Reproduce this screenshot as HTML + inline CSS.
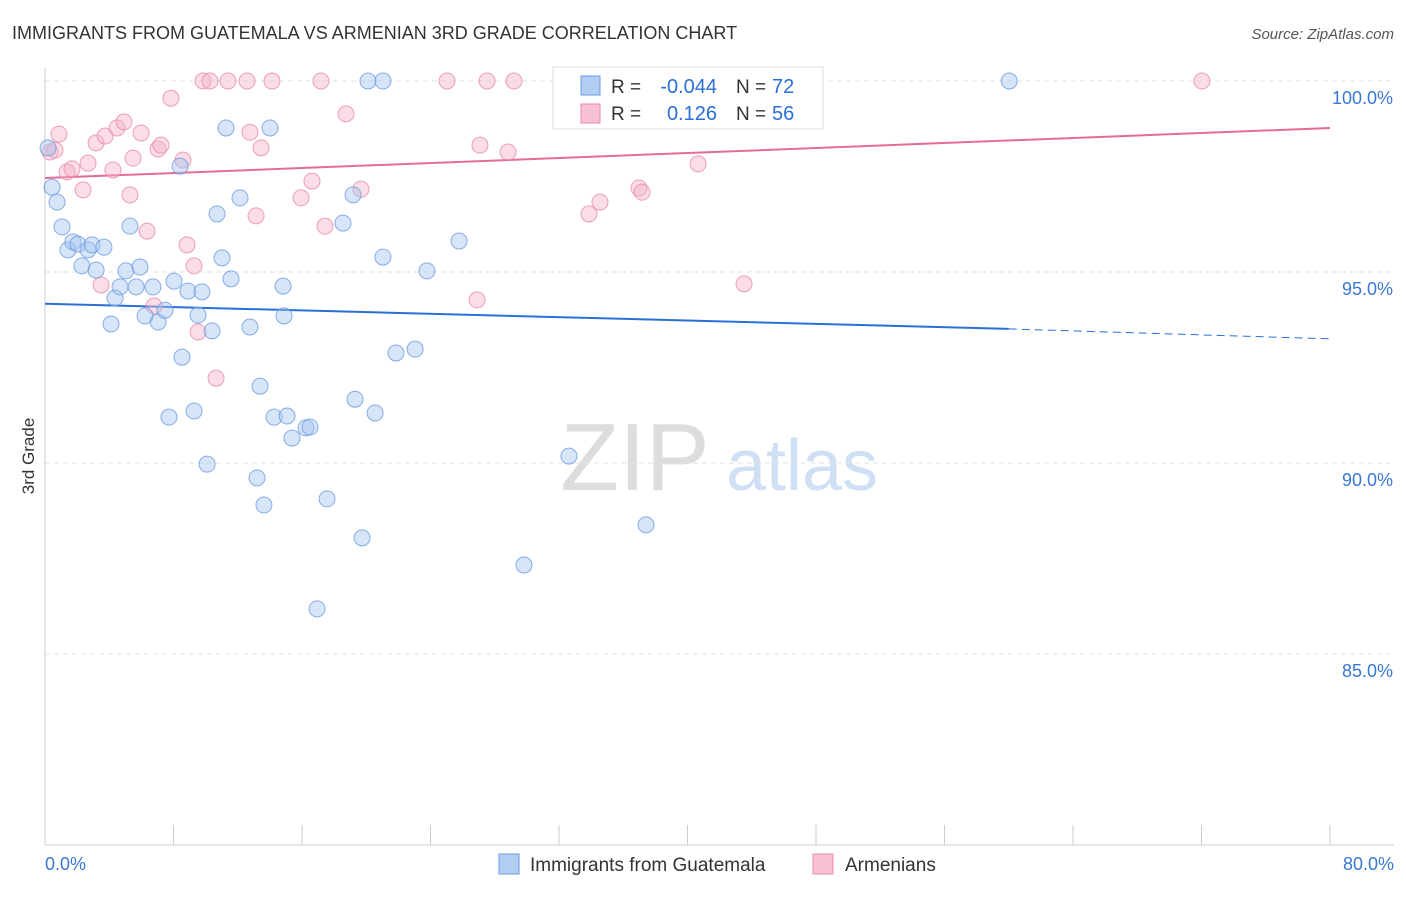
<!DOCTYPE html>
<html><head><meta charset="utf-8"><style>
body{margin:0;background:#fff;font-family:"Liberation Sans",sans-serif;}
svg text{font-family:"Liberation Sans",sans-serif;}
</style></head><body>
<svg id="c" width="1406" height="892" viewBox="0 0 1406 892" xmlns="http://www.w3.org/2000/svg">
<text x="12" y="39" font-size="18" fill="#333">IMMIGRANTS FROM GUATEMALA VS ARMENIAN 3RD GRADE CORRELATION CHART</text>
<text x="1394" y="39" font-size="15" fill="#555" text-anchor="end" font-style="italic">Source: ZipAtlas.com</text>
<text transform="translate(34,456) rotate(-90)" font-size="17" fill="#333" text-anchor="middle">3rd Grade</text>
<g>
<text x="635" y="490" font-size="96" fill="#ddd" text-anchor="middle" font-family="Liberation Serif,serif">ZIP</text>
<text x="802" y="490" font-size="72" fill="#cfe0f5" text-anchor="middle">atlas</text>
</g>
<g id="grid"></g><g id="axes"></g><g id="lines"></g><g id="pts"></g>
<g>
<rect x="553" y="67" width="270" height="62" fill="#fff" stroke="#ddd"/>
<rect x="581" y="76" width="19" height="19" fill="#b3cef3" stroke="#6a9be0"/>
<text x="611" y="93" font-size="19" fill="#333">R =</text>
<text x="717" y="93" font-size="20" fill="#2a6fd6" text-anchor="end">-0.044</text>
<text x="736" y="93" font-size="19" fill="#333">N =</text>
<text x="772" y="93" font-size="20" fill="#2a6fd6">72</text>
<rect x="581" y="104" width="19" height="19" fill="#f7c3d4" stroke="#e88aab"/>
<text x="611" y="120" font-size="19" fill="#333">R =</text>
<text x="717" y="120" font-size="20" fill="#2a6fd6" text-anchor="end">0.126</text>
<text x="736" y="120" font-size="19" fill="#333">N =</text>
<text x="772" y="120" font-size="20" fill="#2a6fd6">56</text>
</g>
<g>
<rect x="499" y="854" width="20" height="20" fill="#b3cef3" stroke="#6a9be0"/>
<text x="530" y="871" font-size="19" fill="#333">Immigrants from Guatemala</text>
<rect x="813" y="854" width="20" height="20" fill="#f7c3d4" stroke="#e88aab"/>
<text x="845" y="871" font-size="19" fill="#333">Armenians</text>
</g>
</svg>
<script>
const yTicks=[100,95,90,85];
const yTickLabels=["100.0%","95.0%","90.0%","85.0%"];
const blueX=[0.19,0.44,0.75,1.06,1.43,1.74,2.05,2.30,2.68,2.93,3.18,3.67,4.11,4.36,4.67,5.04,5.29,5.67,5.91,6.23,6.72,7.04,7.47,7.72,8.03,8.41,8.53,8.90,9.28,9.53,9.77,10.09,10.40,10.71,11.02,11.27,11.58,12.14,12.76,13.20,13.39,13.63,14.01,14.26,14.82,14.88,15.07,15.38,16.25,16.50,16.94,17.56,18.55,19.18,19.30,19.74,20.11,20.55,21.04,21.04,21.85,23.04,23.78,25.78,29.82,32.62,36.61,37.42,60.03];
const blueY=[98.25,97.22,96.83,96.18,95.58,95.79,95.73,95.16,95.58,95.71,95.05,95.65,93.64,94.32,94.61,95.03,96.20,94.61,95.13,93.85,94.61,93.69,94.00,91.20,94.76,97.77,92.77,94.50,91.36,93.87,94.48,89.97,93.46,96.52,95.37,98.77,94.82,96.94,93.56,89.61,92.01,88.90,98.77,91.20,94.63,93.85,91.23,90.65,90.92,90.94,86.18,89.06,96.28,97.02,91.67,88.04,100,91.31,100,95.39,92.88,92.98,95.03,95.81,87.33,90.18,100,88.38,100];
const pinkX=[0.31,0.62,0.87,1.37,1.68,2.37,2.68,3.18,3.49,3.74,4.23,4.48,4.92,5.29,5.48,5.98,6.35,6.79,7.04,7.22,7.84,8.59,8.84,9.28,9.53,9.84,10.27,10.65,11.39,12.58,12.76,13.14,13.45,14.13,15.94,16.62,17.18,17.43,18.74,19.67,25.03,26.90,27.08,27.52,28.83,29.20,32.81,33.87,34.55,36.98,37.17,38.35,40.66,43.52,72.03];
const pinkY=[98.14,98.19,98.61,97.62,97.70,97.15,97.85,98.38,94.66,98.56,97.67,98.77,98.93,97.02,97.98,98.64,96.07,94.11,98.22,98.32,99.55,97.93,95.71,95.16,93.43,100,100,92.22,100,100,98.66,96.47,98.25,100,96.94,97.38,100,96.20,99.14,97.17,100,94.27,98.32,100,98.14,100,100,96.52,96.83,97.20,97.09,99.55,97.83,94.69,100];
const blueTrend=[94.17,93.51,93.25]; // at x=0, 60, 80
const pinkTrend=[97.46,98.77]; // at x=0, 80
const NS="http://www.w3.org/2000/svg";
const X=v=>45+v/80*1285, Y=v=>81+(100-v)*38.2;
function mk(t,a,p){const e=document.createElementNS(NS,t);for(const k in a)e.setAttribute(k,a[k]);p.appendChild(e);return e;}
const grid=document.getElementById('grid'),axes=document.getElementById('axes'),lines=document.getElementById('lines'),pts=document.getElementById('pts');
yTicks.forEach((t,i)=>{
 const l=mk('line',{x1:45,x2:1394,y1:Y(t),y2:Y(t),stroke:'#e2e2e2','stroke-dasharray':'5,4'},grid);
 
 
 const tx=mk('text',{x:1393,y:Y(t)+23,'font-size':18,fill:'#3a78d4','text-anchor':'end'},grid);tx.textContent=yTickLabels[i];
 
 
});
const ax=mk('line',{x1:45,x2:1394,y1:845,y2:845,stroke:'#ccc'},axes);


const ay=mk('line',{x1:45,x2:45,y1:68,y2:845,stroke:'#ccc'},axes);


for(let i=0;i<=10;i++){const t=mk('line',{x1:X(i*8),x2:X(i*8),y1:825,y2:845,stroke:'#ccc'},axes);
 
 }
[[0,"0.0%","start",45],[80,"80.0%","end",1394]].forEach(d=>{const t=mk('text',{x:d[3],y:870,'font-size':18,fill:'#3a78d4','text-anchor':d[2]},axes);t.textContent=d[1];
 
 });
function dots(xs,ys,f,s,n){xs.forEach((x,i)=>{const c=mk('circle',{cx:X(x),cy:Y(ys[i]),r:8,fill:f,'fill-opacity':0.45,stroke:s,'stroke-width':1,'stroke-opacity':0.8},pts);
 
 });}
dots(pinkX,pinkY,'#f5b3c8','#e88aab','armenians-point');
dots(blueX,blueY,'#a6c5f0','#6a9be0','guatemala-point');
let l1=mk('line',{x1:X(0),y1:Y(blueTrend[0]),x2:X(60),y2:Y(blueTrend[1]),stroke:'#2a6fd6','stroke-width':2},lines);


let l2=mk('line',{x1:X(60),y1:Y(blueTrend[1]),x2:X(80),y2:Y(blueTrend[2]),stroke:'#2a6fd6','stroke-width':1,'stroke-dasharray':'8,5'},lines);


let l3=mk('line',{x1:X(0),y1:Y(pinkTrend[0]),x2:X(80),y2:Y(pinkTrend[1]),stroke:'#e66b97','stroke-width':2},lines);


</script>
</body></html>
